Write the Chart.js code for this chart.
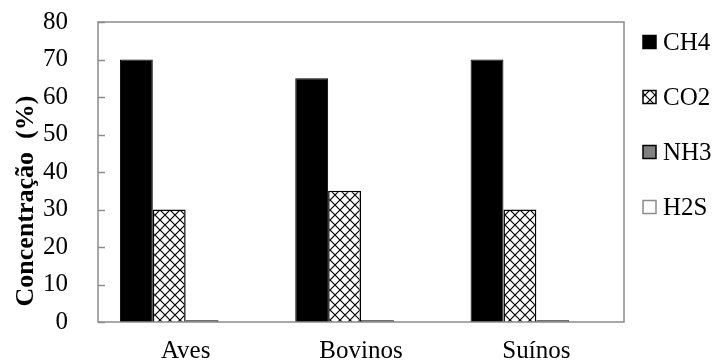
<!DOCTYPE html>
<html>
<head>
<meta charset="utf-8">
<script src="https://cdn.jsdelivr.net/npm/chart.js@4.4.0/dist/chart.umd.min.js"></script>
<style>
  html, body { margin: 0; padding: 0; background: #fff; }
  #wrap { width: 719px; height: 363px; }
</style>
</head>
<body>
<div id="wrap"><canvas id="bar_chart"></canvas></div>
<script>
const categories = ["Aves", "Bovinos", "Suínos"];
const ch4_values = [70, 65, 70];
const co2_values = [30, 35, 30];
const nh3_values = [0.5, 0.5, 0.5];
const h2s_values = [0, 0, 0];
const y_ticks = [0, 10, 20, 30, 40, 50, 60, 70, 80];

const serif = "'Liberation Serif', 'Times New Roman', serif";

// crosshatch fill for CO2
function crossHatch() {
  const c = document.createElement("canvas");
  c.width = 10;
  c.height = 10;
  const g = c.getContext("2d");
  g.fillStyle = "#fff";
  g.fillRect(0, 0, 10, 10);
  g.strokeStyle = "#000";
  g.lineWidth = 1.2;
  g.beginPath();
  g.moveTo(0, 0); g.lineTo(10, 10);
  g.moveTo(10, 0); g.lineTo(0, 10);
  g.stroke();
  return g.createPattern(c, "repeat");
}

// box around plot, small inward ticks on y axis, rotated y title, legend on the right
const frame = {
  id: "frame",
  afterDraw(chart) {
    const { ctx, chartArea: a, scales } = chart;
    ctx.save();
    ctx.strokeStyle = "#8c8c8c";
    ctx.lineWidth = 1.5;
    ctx.strokeRect(a.left, a.top, a.right - a.left, a.bottom - a.top);
    y_ticks.forEach((v) => {
      const y = Math.round(scales.y.getPixelForValue(v)) + 0.5;
      ctx.beginPath();
      ctx.moveTo(a.left, y);
      ctx.lineTo(a.left + 7, y);
      ctx.stroke();
    });
    ctx.restore();

    ctx.save();
    ctx.translate(26, 201);
    ctx.rotate(-Math.PI / 2);
    ctx.fillStyle = "#000";
    ctx.font = "bold 26px " + serif;
    ctx.textAlign = "center";
    ctx.textBaseline = "middle";
    ctx.fillText("Concentração  (%)", 0, 0);
    ctx.restore();

    ctx.save();
    ctx.font = "25px " + serif;
    ctx.textBaseline = "middle";
    chart.data.datasets.forEach((ds, i) => {
      const cy = 42 + i * 55;
      ctx.fillStyle = ds.backgroundColor;
      ctx.fillRect(643, cy - 6.5, 13, 13);
      ctx.strokeStyle = ds.borderColor;
      ctx.lineWidth = 1.5;
      ctx.strokeRect(643, cy - 6.5, 13, 13);
      ctx.fillStyle = "#000";
      ctx.fillText(ds.label, 663, cy + 1);
    });
    ctx.restore();
  },
};

const ctx = document.getElementById("bar_chart").getContext("2d");

new Chart(ctx, {
  type: "bar",
  data: {
    labels: categories,
    datasets: [
      { label: "CH4", data: ch4_values, backgroundColor: "#000", borderColor: "#000", borderWidth: 1 },
      { label: "CO2", data: co2_values, backgroundColor: crossHatch(), borderColor: "#000", borderWidth: 1.5 },
      { label: "NH3", data: nh3_values, backgroundColor: "#808080", borderColor: "#000", borderWidth: 1 },
      { label: "H2S", data: h2s_values, backgroundColor: "#fff", borderColor: "#8c8c8c", borderWidth: 1 },
    ],
  },
  options: {
    responsive: true,
    maintainAspectRatio: false,
    animation: false,
    layout: { padding: { top: 22, left: 13, right: 95, bottom: 0 } },
    datasets: { bar: { categoryPercentage: 0.75, barPercentage: 1.0 } },
    plugins: {
      tooltip: { enabled: false },
      legend: { display: false },
    },
    scales: {
      x: {
        grid: { display: false, drawTicks: false },
        border: { display: false },
        ticks: { color: "#000", font: { family: serif, size: 25, lineHeight: 1 }, padding: 17 },
        afterFit(scale) {
          scale.height = 41;
        },
      },
      y: {
        min: 0,
        max: 80,
        grid: { display: false, drawTicks: false },
        border: { display: false },
        ticks: { stepSize: 10, color: "#000", font: { family: serif, size: 25 }, padding: 30 },
        afterFit(scale) {
          scale.paddingTop = 0;
          scale.paddingBottom = 0;
        },
      },
    },
  },
  plugins: [frame],
});
</script>
</body>
</html>
